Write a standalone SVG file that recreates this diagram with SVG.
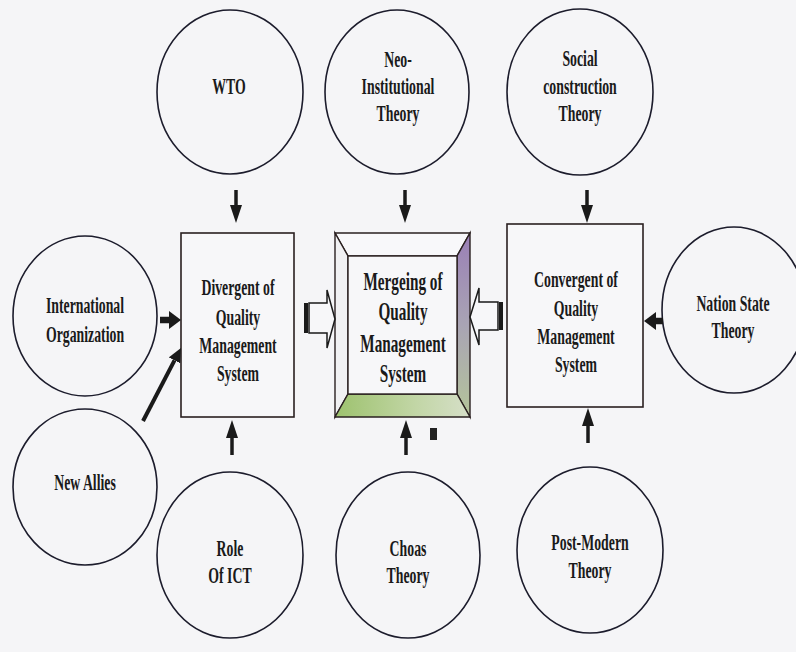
<svg xmlns="http://www.w3.org/2000/svg" width="796" height="652" viewBox="0 0 796 652">
<defs>
<style>
.lbl{font-family:"Liberation Serif","Times New Roman",serif;font-weight:bold;font-size:23px;fill:#1a1a1a;text-anchor:middle}
.big{font-size:25px}
.node{fill:none;stroke:#1c1c2c;stroke-width:1.6}
.box{fill:#f7f7f9;stroke:#2a2020;stroke-width:1.6}
.conn line{stroke:#1a1a1a;fill:none}
.thin{stroke-width:3.5}
.thick{stroke-width:6.5}
.diag{stroke-width:4}
.hollow{fill:#f7f7f9;stroke:#1a1a1a;stroke-width:1.5}
</style>
<marker id="ah" markerUnits="userSpaceOnUse" markerWidth="18" markerHeight="12" refX="0" refY="6" orient="auto"><path d="M0,0 L18,6 L0,12 z" fill="#1a1a1a"/></marker>
<marker id="ahw" markerUnits="userSpaceOnUse" markerWidth="12" markerHeight="18" refX="0" refY="9" orient="auto"><path d="M0,0 L12,9 L0,18 z" fill="#1a1a1a"/></marker>
<marker id="ahd" markerUnits="userSpaceOnUse" markerWidth="14" markerHeight="13" refX="0" refY="6.5" orient="auto"><path d="M0,0 L14,6.5 L0,13 z" fill="#1a1a1a"/></marker>
<linearGradient id="gRight" x1="0" y1="0" x2="0" y2="1">
<stop offset="0" stop-color="#9a7fb6"/>
<stop offset="0.5" stop-color="#a9a4b4"/>
<stop offset="1" stop-color="#b4c49a"/>
</linearGradient>
<linearGradient id="gBottom" x1="0" y1="0" x2="1" y2="0">
<stop offset="0" stop-color="#9dc26e"/>
<stop offset="0.6" stop-color="#c2d6a6"/>
<stop offset="1" stop-color="#d6dfc8"/>
</linearGradient>
</defs>
<rect width="796" height="652" fill="#f5f5f7"/>

<g id="wto">
<ellipse class="node" cx="230" cy="92" rx="73" ry="82"/>
<g transform="translate(229,0) scale(0.6,1)"><text class="lbl" x="0" y="94">WTO</text></g>
</g>
<g id="neo">
<ellipse class="node" cx="397" cy="92" rx="72" ry="82"/>
<g transform="translate(398,0) scale(0.6,1)">
<text class="lbl" x="0" y="67">Neo-</text>
<text class="lbl" x="0" y="94">Institutional</text>
<text class="lbl" x="0" y="121">Theory</text>
</g>
</g>
<g id="social">
<ellipse class="node" cx="580" cy="92" rx="73" ry="83"/>
<g transform="translate(580,0) scale(0.6,1)">
<text class="lbl" x="0" y="66">Social</text>
<text class="lbl" x="0" y="94">construction</text>
<text class="lbl" x="0" y="121">Theory</text>
</g>
</g>
<g id="intl">
<ellipse class="node" cx="85" cy="316" rx="72" ry="80"/>
<g transform="translate(85,0) scale(0.6,1)">
<text class="lbl" x="0" y="313">International</text>
<text class="lbl" x="0" y="342">Organization</text>
</g>
</g>
<g id="allies">
<ellipse class="node" cx="85" cy="487" rx="72" ry="78"/>
<g transform="translate(85,0) scale(0.6,1)"><text class="lbl" x="0" y="490">New Allies</text></g>
</g>
<g id="ict">
<ellipse class="node" cx="230" cy="555" rx="73" ry="83"/>
<g transform="translate(230,0) scale(0.6,1)">
<text class="lbl" x="0" y="556">Role</text>
<text class="lbl" x="0" y="583">Of ICT</text>
</g>
</g>
<g id="chaos">
<ellipse class="node" cx="408" cy="555" rx="72" ry="83"/>
<g transform="translate(408,0) scale(0.6,1)">
<text class="lbl" x="0" y="556">Choas</text>
<text class="lbl" x="0" y="583">Theory</text>
</g>
</g>
<g id="postmodern">
<ellipse class="node" cx="590" cy="550" rx="73" ry="83"/>
<g transform="translate(590,0) scale(0.6,1)">
<text class="lbl" x="0" y="550">Post-Modern</text>
<text class="lbl" x="0" y="578">Theory</text>
</g>
</g>
<g id="nation">
<ellipse class="node" cx="734" cy="310" rx="72" ry="83"/>
<g transform="translate(733,0) scale(0.6,1)">
<text class="lbl" x="0" y="311">Nation State</text>
<text class="lbl" x="0" y="338">Theory</text>
</g>
</g>

<g id="divergent">
<rect class="box" x="181" y="233" width="113" height="184"/>
<g transform="translate(238,0) scale(0.6,1)">
<text class="lbl" x="0" y="295">Divergent of</text>
<text class="lbl" x="0" y="325">Quality</text>
<text class="lbl" x="0" y="353">Management</text>
<text class="lbl" x="0" y="381">System</text>
</g>
</g>
<g id="merging">
<polygon points="335,233 470,233 457,256 348,256" fill="#f8f8fa" stroke="#2a2020" stroke-width="1.4"/>
<polygon points="335,233 348,256 348,394 335,417" fill="#f1f1f3" stroke="#2a2020" stroke-width="1.4"/>
<polygon points="470,233 470,417 457,394 457,256" fill="url(#gRight)" stroke="#2a2020" stroke-width="1.4"/>
<polygon points="335,417 470,417 457,394 348,394" fill="url(#gBottom)" stroke="#2a2020" stroke-width="1.4"/>
<rect x="348" y="256" width="109" height="138" fill="#f7f7f9" stroke="#2a2020" stroke-width="1.4"/>
<g transform="translate(403,0) scale(0.61,1)">
<text class="lbl big" x="0" y="290">Mergeing of</text>
<text class="lbl big" x="0" y="320">Quality</text>
<text class="lbl big" x="0" y="352">Management</text>
<text class="lbl big" x="0" y="382">System</text>
</g>
</g>
<g id="convergent">
<rect class="box" x="507" y="224" width="136" height="183"/>
<g transform="translate(576,0) scale(0.6,1)">
<text class="lbl" x="0" y="287">Convergent of</text>
<text class="lbl" x="0" y="316">Quality</text>
<text class="lbl" x="0" y="344">Management</text>
<text class="lbl" x="0" y="372">System</text>
</g>
</g>

<g id="connectors" class="conn">
<line class="thin" x1="236" y1="190" x2="236" y2="205" marker-end="url(#ah)"/>
<line class="thin" x1="405" y1="190" x2="405" y2="205" marker-end="url(#ah)"/>
<line class="thin" x1="587" y1="190" x2="587" y2="205" marker-end="url(#ah)"/>
<line class="thin" x1="232" y1="455" x2="232" y2="438" marker-end="url(#ah)"/>
<line class="thin" x1="406" y1="455" x2="406" y2="438" marker-end="url(#ah)"/>
<line class="thin" x1="588" y1="443" x2="588" y2="426" marker-end="url(#ah)"/>
<line class="thick" x1="160" y1="320" x2="169" y2="320" marker-end="url(#ahw)"/>
<line class="thick" x1="663" y1="321" x2="656" y2="321" marker-end="url(#ahw)"/>
<line class="diag" x1="143" y1="421" x2="174.5" y2="360.4" marker-end="url(#ahd)"/>
<rect x="304" y="303" width="4" height="30" fill="#1a1a1a"/>
<polygon class="hollow" points="309,303 327,303 327,290 335,319 327,348 327,333 309,333"/>
<rect x="499" y="302" width="4" height="28" fill="#1a1a1a"/>
<polygon class="hollow" points="498,302 479,302 479,288 470,317 479,345 479,330 498,330"/>
</g>
<rect x="430" y="428" width="7" height="12" fill="#222"/>
</svg>
